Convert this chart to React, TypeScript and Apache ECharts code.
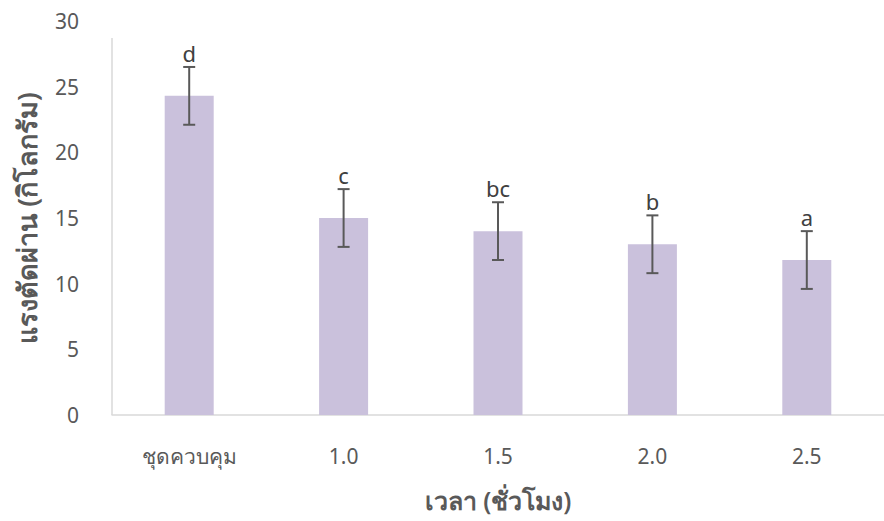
import React, { useEffect, useRef } from "react";
import * as echarts from "echarts";

const categories = ["ชุดควบคุม", "1.0", "1.5", "2.0", "2.5"];
const means = [24.3, 15.0, 14.0, 13.0, 11.8];
const errors = [2.2, 2.2, 2.2, 2.2, 2.2];
const letters = ["d", "c", "bc", "b", "a"];
const yTicks = [0, 5, 10, 15, 20, 25, 30];

const FONT = "'Noto Sans', 'Open Sans', sans-serif";

export default function App() {
  const ref = useRef<HTMLDivElement>(null);
  useEffect(() => {
    if (!ref.current) return;
    const chart = echarts.init(ref.current, null, { renderer: "svg" });
    const errData = means.map((m, i) => [i, m - errors[i], m + errors[i], letters[i]]);
    chart.setOption({
      animation: false,
      backgroundColor: "#ffffff",
      grid: { left: 112, top: 21, bottom: 106, width: 781 },
      xAxis: {
        type: "category",
        data: categories,
        axisLine: { show: true, lineStyle: { color: "#d9d9d9", width: 1.5 } },
        axisTick: { show: false },
        axisLabel: { color: "#595959", fontSize: 21, fontFamily: FONT, margin: 30 },
        name: "เวลา (ชั่วโมง)",
        nameLocation: "middle",
        nameGap: 72,
        nameTextStyle: { color: "#595959", fontSize: 25, fontWeight: 600, fontFamily: FONT },
      },
      yAxis: {
        type: "value",
        min: yTicks[0],
        max: yTicks[yTicks.length - 1],
        interval: 5,
        splitLine: { show: false },
        axisLine: { show: false },
        axisTick: { show: false },
        axisLabel: { color: "#595959", fontSize: 21, fontFamily: FONT, margin: 33, padding: [6, 0, 0, 0] },
        name: "แรงตัดผ่าน (กิโลกรัม)",
        nameLocation: "middle",
        nameGap: 72,
        nameRotate: 90,
        nameTextStyle: { color: "#595959", fontSize: 27, fontWeight: 600, fontFamily: FONT, padding: [0, 0, 0, 0] },
      },
      graphic: [
        {
          type: "line",
          shape: { x1: 112, y1: 38, x2: 112, y2: 415 },
          style: { stroke: "#d9d9d9", lineWidth: 1.5 },
          z: 1,
        },
      ],
      series: [
        {
          type: "bar",
          data: means,
          barWidth: 49,
          itemStyle: { color: "#cac1dc" },
          silent: true,
        },
        {
          type: "custom",
          data: errData,
          z: 10,
          renderItem: (params: any, api: any) => {
            const x = api.value(0);
            const lo = api.coord([x, api.value(1)]);
            const hi = api.coord([x, api.value(2)]);
            const cap = 6;
            const st = { stroke: "#595959", lineWidth: 2 };
            return {
              type: "group",
              children: [
                { type: "line", shape: { x1: hi[0], y1: hi[1], x2: lo[0], y2: lo[1] }, style: st },
                { type: "line", shape: { x1: hi[0] - cap, y1: hi[1], x2: hi[0] + cap, y2: hi[1] }, style: st },
                { type: "line", shape: { x1: lo[0] - cap, y1: lo[1], x2: lo[0] + cap, y2: lo[1] }, style: st },
                {
                  type: "text",
                  x: hi[0],
                  y: hi[1] - 3,
                  style: {
                    text: letters[params.dataIndex],
                    fill: "#404040",
                    fontSize: 22,
                    fontFamily: FONT,
                    align: "center",
                    verticalAlign: "bottom",
                  },
                },
              ],
            };
          },
        },
      ],
    });
    return () => chart.dispose();
  }, []);
  return (
    <div
      ref={ref}
      style={{ position: "fixed", left: 0, top: 0, width: 884, height: 521 }}
    />
  );
}
